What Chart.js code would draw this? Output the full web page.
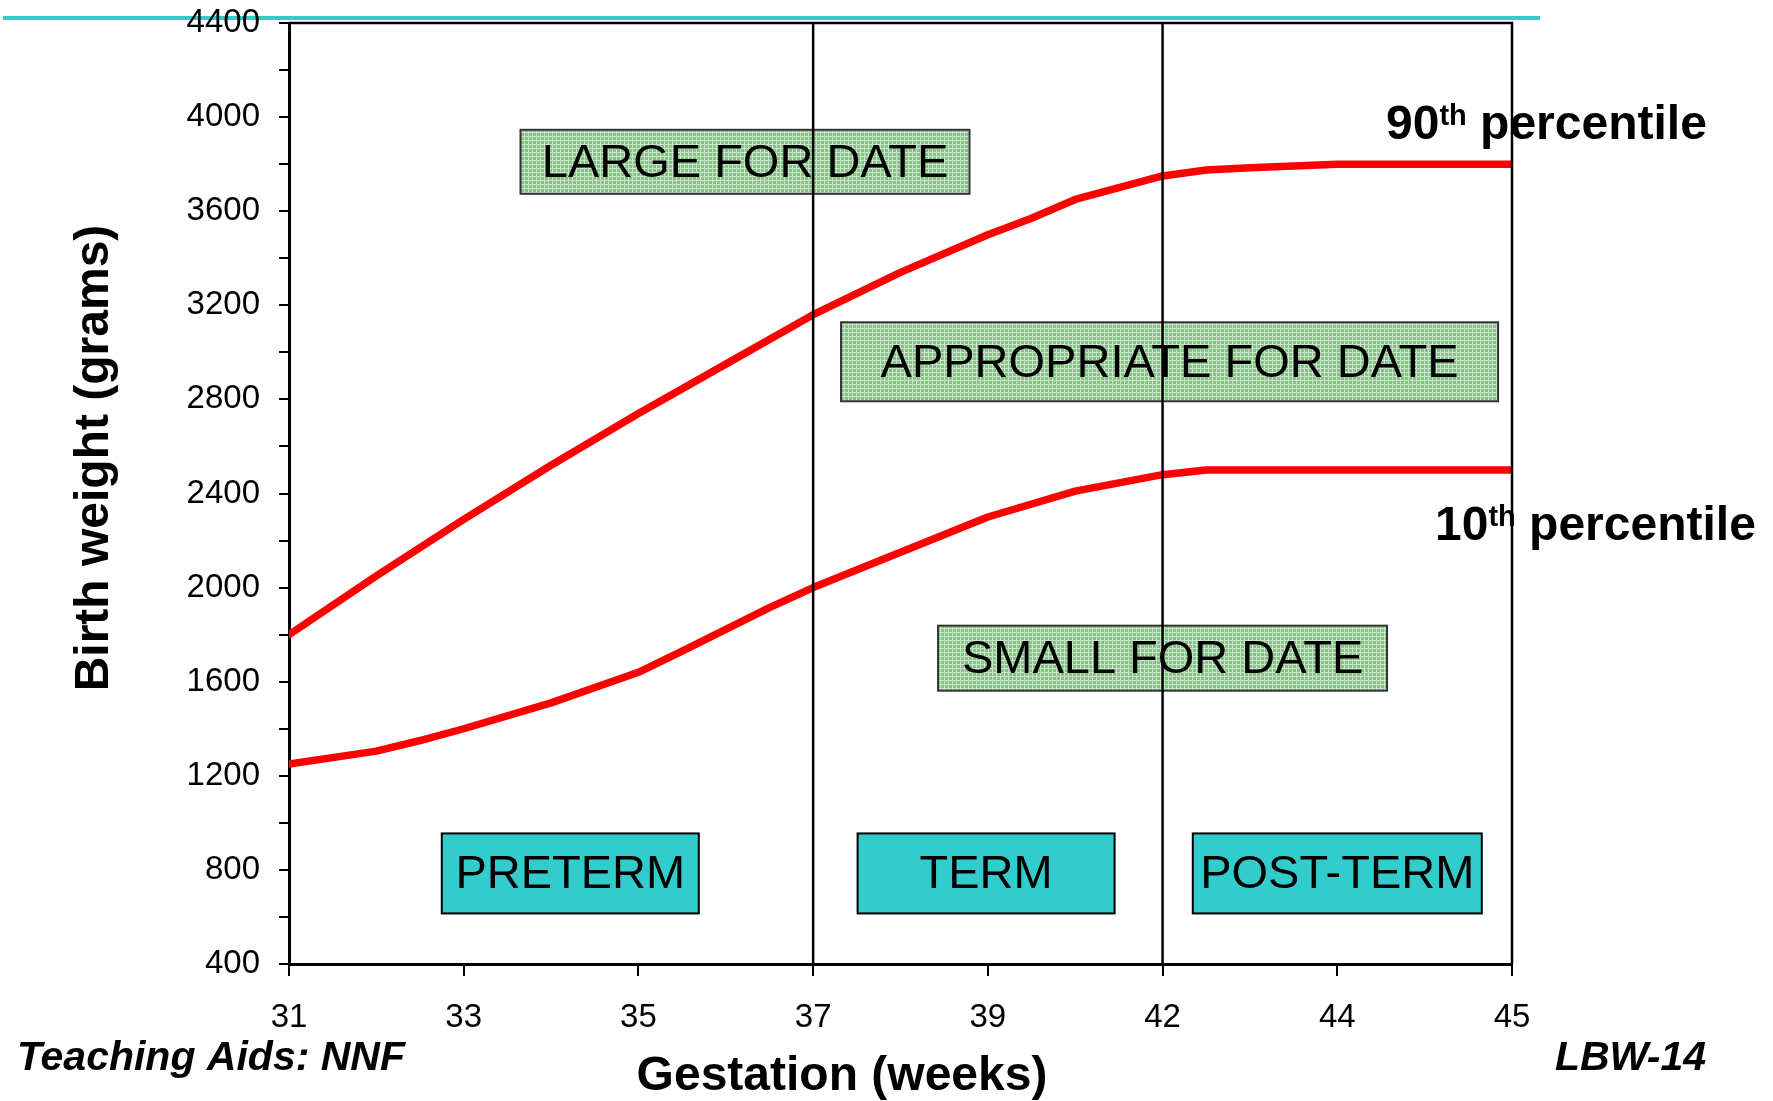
<!DOCTYPE html>
<html>
<head>
<meta charset="utf-8">
<script src="https://cdn.jsdelivr.net/npm/chart.js@4.4.1/dist/chart.umd.min.js"></script>
<style>
  body { margin: 0; background: #fff; }
  canvas { display: block; }
</style>
</head>
<body>
<canvas id="chartJSContainer" width="1773" height="1101"></canvas>
<script>
// tick labels along the gestation axis (evenly spaced positions 0..7)
var xLabels = ['31', '33', '35', '37', '39', '42', '44', '45'];

// 90th percentile curve: positions on the gestation axis and weights (g)
var p90Pos = [0, 0.5, 1, 1.5, 2, 2.5, 3, 3.5, 4, 4.25, 4.5, 4.75, 5, 5.25, 5.5, 6, 7];
var p90Weight = [1800, 2050, 2290, 2520, 2740, 2950, 3160, 3340, 3500, 3570, 3650, 3700, 3750, 3775, 3785, 3800, 3800];

// 10th percentile curve
var p10Pos = [0, 0.5, 0.75, 1, 1.5, 2, 2.25, 2.75, 3, 3.5, 4, 4.5, 5, 5.25, 6, 7];
var p10Weight = [1250, 1305, 1350, 1400, 1510, 1640, 1730, 1915, 2000, 2150, 2300, 2410, 2480, 2500, 2500, 2500];

// term boundaries (37 and 42 weeks)
var dividerPos = [3, 5];

// weight zone labels (green boxes), centres in axis units
var zoneNames = ['LARGE FOR DATE', 'APPROPRIATE FOR DATE', 'SMALL FOR DATE'];
var zonePos = [2.61, 5.04, 5.0];
var zoneWeight = [3810, 2960, 1700];
var zoneBoxW = [449, 657, 449];
var zoneBoxH = [64, 79, 65];

// term labels (teal boxes)
var termNames = ['PRETERM', 'TERM', 'POST-TERM'];
var termPos = [1.61, 3.99, 6.0];
var termWeight = [785, 785, 785];
var termBoxW = [257, 257, 289];
var termBoxH = [80, 80, 80];

var FONT = 'Liberation Sans, Arial, sans-serif';

function toXY(xs, ys) {
  return xs.map(function (x, i) { return { x: x, y: ys[i] }; });
}

function makeGreenPattern(ctx) {
  var c = document.createElement('canvas');
  c.width = 4; c.height = 4;
  var g = c.getContext('2d');
  g.fillStyle = '#86c386';
  g.fillRect(0, 0, 4, 4);
  g.fillStyle = '#c8e4c8';
  g.fillRect(0, 0, 4, 1);
  g.fillRect(0, 0, 1, 4);
  return ctx.createPattern(c, 'repeat');
}

function drawBox(ctx, cx, cy, w, h, fill, stroke, text) {
  ctx.fillStyle = fill;
  ctx.fillRect(cx - w / 2, cy - h / 2, w, h);
  ctx.lineWidth = 2;
  ctx.strokeStyle = stroke;
  ctx.strokeRect(cx - w / 2, cy - h / 2, w, h);
  ctx.fillStyle = '#000';
  ctx.font = '47px ' + FONT;
  ctx.textAlign = 'center';
  ctx.textBaseline = 'middle';
  ctx.fillText(text, cx, cy + 2);
}

function drawPercentile(ctx, x, y, num) {
  ctx.textAlign = 'left';
  ctx.textBaseline = 'alphabetic';
  ctx.fillStyle = '#000';
  ctx.font = 'bold 48px ' + FONT;
  ctx.fillText(num, x, y);
  x += ctx.measureText(num).width;
  ctx.font = 'bold 29px ' + FONT;
  ctx.fillText('th', x, y - 14);
  x += ctx.measureText('th').width;
  ctx.font = 'bold 48px ' + FONT;
  ctx.fillText(' percentile', x, y);
}

var decor = {
  id: 'decor',
  beforeDraw: function (chart) {
    var ctx = chart.ctx;
    ctx.save();
    ctx.fillStyle = '#fff';
    ctx.fillRect(0, 0, chart.width, chart.height);
    ctx.fillStyle = '#33cccc';
    ctx.fillRect(3, 16, 1537, 4);
    ctx.restore();
  },
  beforeDatasetsDraw: function (chart) {
    var ctx = chart.ctx;
    var xs = chart.scales.x, ys = chart.scales.y;
    ctx.save();
    var pat = makeGreenPattern(ctx);
    zoneNames.forEach(function (name, i) {
      drawBox(ctx, xs.getPixelForValue(zonePos[i]), ys.getPixelForValue(zoneWeight[i]),
        zoneBoxW[i], zoneBoxH[i], pat, '#333', name);
    });
    termNames.forEach(function (name, i) {
      drawBox(ctx, xs.getPixelForValue(termPos[i]), ys.getPixelForValue(termWeight[i]),
        termBoxW[i], termBoxH[i], '#33cccc', '#000', name);
    });
    ctx.restore();
  },
  afterDraw: function (chart) {
    var ctx = chart.ctx;
    var a = chart.chartArea;
    ctx.save();
    // plot frame (top and right)
    ctx.strokeStyle = '#000';
    ctx.lineWidth = 2.5;
    ctx.beginPath();
    ctx.moveTo(a.left, a.top);
    ctx.lineTo(a.right, a.top);
    ctx.lineTo(a.right, a.bottom);
    ctx.stroke();

    // curve labels
    drawPercentile(ctx, 1386, 139, '90');
    drawPercentile(ctx, 1435, 540, '10');

    // axis titles
    ctx.fillStyle = '#000';
    ctx.font = 'bold 48px ' + FONT;
    ctx.textAlign = 'center';
    ctx.textBaseline = 'alphabetic';
    ctx.fillText('Gestation (weeks)', 842, 1090);
    ctx.save();
    ctx.translate(108, 458);
    ctx.rotate(-Math.PI / 2);
    ctx.fillText('Birth weight (grams)', 0, 0);
    ctx.restore();

    // footer notes
    ctx.font = 'italic bold 41px ' + FONT;
    ctx.textAlign = 'left';
    ctx.fillText('Teaching Aids: NNF', 17, 1070);
    ctx.textAlign = 'right';
    ctx.fillText('LBW-14', 1706, 1070);
    ctx.restore();
  }
};

var datasets = dividerPos.map(function (p) {
  return {
    data: [{ x: p, y: 400 }, { x: p, y: 4400 }],
    borderColor: '#000',
    borderWidth: 2.5,
    pointRadius: 0,
    order: 0
  };
});
datasets.push({
  label: '90th percentile',
  data: toXY(p90Pos, p90Weight),
  borderColor: '#ff0000',
  borderWidth: 7.5,
  borderCapStyle: 'round',
  borderJoinStyle: 'round',
  pointRadius: 0,
  tension: 0,
  order: 1
});
datasets.push({
  label: '10th percentile',
  data: toXY(p10Pos, p10Weight),
  borderColor: '#ff0000',
  borderWidth: 7.5,
  borderCapStyle: 'round',
  borderJoinStyle: 'round',
  pointRadius: 0,
  tension: 0,
  order: 1
});

var options = {
  type: 'line',
  data: { datasets: datasets },
  options: {
    responsive: false,
    animation: false,
    layout: { padding: { left: 0, top: 23, right: 261, bottom: 0 } },
    plugins: { legend: { display: false }, tooltip: { enabled: false } },
    scales: {
      x: {
        type: 'linear',
        min: 0,
        max: 7,
        afterFit: function (s) { s.height = 137; s.paddingLeft = 0; s.paddingRight = 0; },
        afterBuildTicks: function (s) {
          s.ticks = xLabels.map(function (l, i) { return { value: i }; });
        },
        ticks: {
          autoSkip: false,
          maxRotation: 0,
          padding: 22,
          color: '#000',
          font: { family: FONT, size: 33 },
          callback: function (v) { return xLabels[v]; }
        },
        grid: { drawOnChartArea: false, drawTicks: true, tickLength: 12, color: '#000', lineWidth: 2 },
        border: { display: true, color: '#000', width: 3 }
      },
      y: {
        min: 400,
        max: 4400,
        afterFit: function (s) { s.width = 289; s.paddingTop = 0; s.paddingBottom = 0; },
        ticks: {
          stepSize: 200,
          autoSkip: false,
          padding: 19,
          color: '#000',
          font: { family: FONT, size: 33 },
          callback: function (v) { return v % 400 === 0 ? String(v) : ''; }
        },
        grid: { drawOnChartArea: false, drawTicks: true, tickLength: 10, color: '#000', lineWidth: 2 },
        border: { display: true, color: '#000', width: 3 }
      }
    }
  },
  plugins: [decor]
};

var ctx = document.getElementById('chartJSContainer');
var myChart = new Chart(ctx, options);
</script>
</body>
</html>
